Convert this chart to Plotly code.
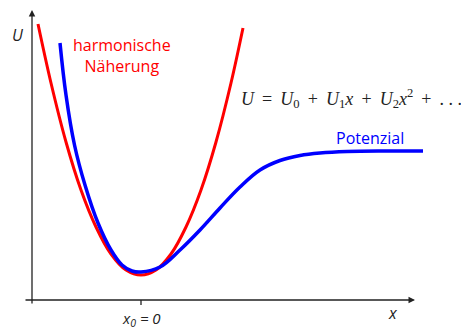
import plotly.graph_objects as go

# -----------------------------
# data
# x in arbitrary units (x0 = 0 at the minimum), U in arbitrary units
# -----------------------------
harm_x = [-1.03, -0.9, -0.75, -0.6, -0.45, -0.3, -0.15, 0.0,
          0.15, 0.3, 0.45, 0.6, 0.75, 0.9, 1.02]
harm_u = [2.76, 2.17, 1.58, 1.10, 0.73, 0.46, 0.30, 0.25,
          0.30, 0.46, 0.73, 1.10, 1.58, 2.17, 2.72]

pot_x = [-0.81, -0.75, -0.665, -0.56, -0.43, -0.30, -0.19, -0.09, 0.0,
         0.19, 0.39, 0.59, 0.79, 0.99, 1.19, 1.39, 1.59, 1.79, 2.06, 2.45, 2.82]
pot_u = [2.57, 2.05, 1.55, 1.15, 0.77, 0.50, 0.35, 0.29, 0.28,
         0.33, 0.50, 0.70, 0.92, 1.13, 1.30, 1.395, 1.445, 1.47, 1.485, 1.49, 1.49]

label_harm = "harmonische<br>Näherung"
label_pot = "Potenzial"
formula = ("<i>U</i>&#8201; = &#8201;<i>U</i><sub>0</sub>&#8201; + &#8201;"
           "<i>U</i><sub>1</sub><i>x</i>&#8201; + &#8201;"
           "<i>U</i><sub>2</sub><i>x</i><sup>2</sup>&#8201; + &#8201;. . .")

SANS = "Open Sans, sans-serif"
SERIF = "Liberation Serif, serif"
INK = "#222222"

fig = go.Figure()

fig.add_trace(go.Scatter(x=harm_x, y=harm_u, mode="lines",
                         line=dict(color="#ff0000", width=3, shape="spline"),
                         hoverinfo="skip"))
fig.add_trace(go.Scatter(x=pot_x, y=pot_u, mode="lines",
                         line=dict(color="#0000ff", width=3.5, shape="spline",
                                   smoothing=1.1),
                         hoverinfo="skip"))

# axes with arrows
fig.add_annotation(x=2.74, y=0, ax=-1.17, ay=0, axref="x", ayref="y",
                   text="", showarrow=True, arrowhead=2, arrowsize=1,
                   arrowwidth=1.3, arrowcolor=INK)
fig.add_annotation(x=-1.09, y=2.90, ax=-1.09, ay=-0.05, axref="x", ayref="y",
                   text="", showarrow=True, arrowhead=2, arrowsize=1,
                   arrowwidth=1.3, arrowcolor=INK)
fig.add_shape(type="line", x0=0, x1=0, y0=0, y1=-0.05,
              line=dict(color=INK, width=1.3))

# labels
fig.add_annotation(x=-1.23, y=2.65, text="<i>U</i>", showarrow=False,
                   font=dict(family=SANS, size=16, color=INK))
fig.add_annotation(x=2.52, y=-0.13, text="<i>x</i>", showarrow=False,
                   font=dict(family=SANS, size=16, color=INK))
fig.add_annotation(x=0, y=-0.185, text="<i>x<sub>0</sub> = 0</i>", showarrow=False,
                   font=dict(family=SANS, size=15, color=INK))
fig.add_annotation(x=-0.19, y=2.445, text=label_harm, showarrow=False,
                   font=dict(family=SANS, size=16, color="#ff0000"))
fig.add_annotation(x=2.29, y=1.62, text=label_pot, showarrow=False,
                   font=dict(family=SANS, size=16, color="#0000ff"))
fig.add_annotation(x=2.105, y=2.02, text=formula, showarrow=False,
                   font=dict(family=SERIF, size=18, color=INK))

fig.update_layout(
    width=461, height=329,
    margin=dict(l=0, r=0, t=0, b=0),
    paper_bgcolor="white", plot_bgcolor="white",
    showlegend=False,
    xaxis=dict(range=[-1.41, 3.20], visible=False, fixedrange=True),
    yaxis=dict(range=[-0.29, 3.00], visible=False, fixedrange=True),
)

# the page body has an 8px default margin; drop it so the figure fills the window
fig.write_html("out.html", config={"displayModeBar": False},
               post_script="document.body.style.margin='0';")
